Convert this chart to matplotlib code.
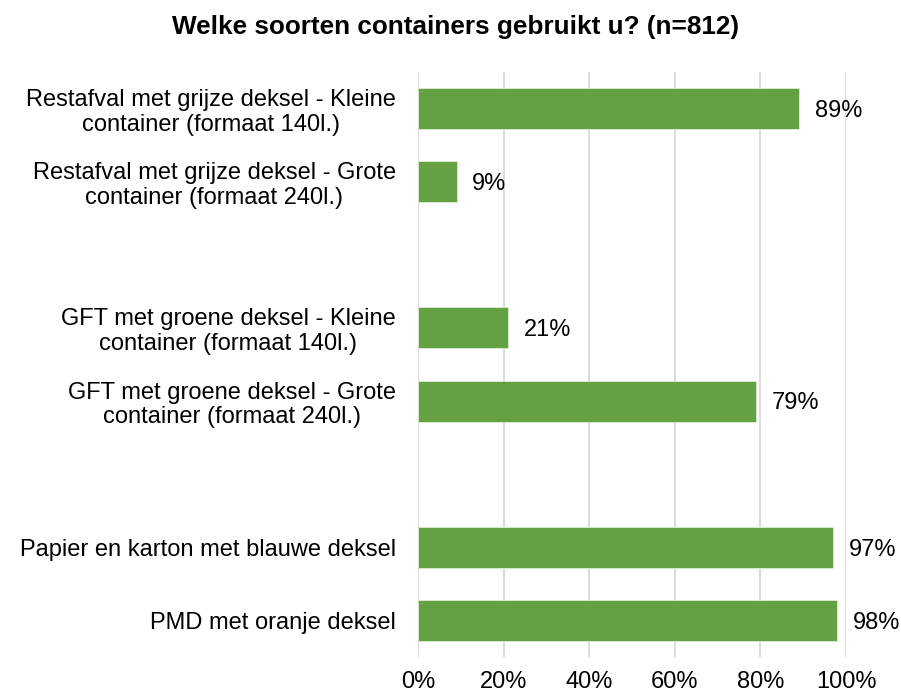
import matplotlib
matplotlib.use("Agg")
import matplotlib.pyplot as plt

plt.rcParams['font.family'] = ['Liberation Sans', 'DejaVu Sans']

# categories in display order (top to bottom), None = empty gap slot
categories = [
    "Restafval met grijze deksel - Kleine\ncontainer (formaat 140l.)",
    "Restafval met grijze deksel - Grote\ncontainer (formaat 240l.)",
    None,
    "GFT met groene deksel - Kleine\ncontainer (formaat 140l.)",
    "GFT met groene deksel - Grote\ncontainer (formaat 240l.)",
    None,
    "Papier en karton met blauwe deksel",
    "PMD met oranje deksel",
]
values = [89, 9, None, 21, 79, None, 97, 98]
xticks = [0, 20, 40, 60, 80, 100]
title = "Welke soorten containers gebruikt u? (n=812)"

green = "#63A143"
fs = 17

fig = plt.figure(figsize=(9.01, 6.95), dpi=100)
ax = fig.add_axes([418 / 901, 1 - 657 / 695, 428 / 901, 585 / 695])

ypos = [i for i, v in enumerate(values) if v is not None]
vals = [v for v in values if v is not None]
ax.barh(ypos, vals, height=0.56, color=green, edgecolor="#DDEBD5",
        linewidth=0.6, zorder=3)

for y, v in zip(ypos, vals):
    ax.text(v + 3.7, y + 0.03, f"{v}%", va="center", ha="left", fontsize=fs,
            color="#000000")

ax.set_xlim(0, 100)
ax.set_ylim(len(values) - 0.5, -0.5)
ax.set_xticks(xticks)
ax.set_xticklabels([f"{t}%" for t in xticks], fontsize=fs)
ax.set_yticks(ypos)
ax.set_yticklabels([categories[i] for i in ypos], fontsize=fs,
                   multialignment="center", linespacing=1.15)
ax.tick_params(axis="both", length=0)
ax.tick_params(axis="x", pad=10)
ax.tick_params(axis="y", pad=16)
ax.grid(axis="x", color="#D9D9D9", linewidth=1.3, zorder=0)
for s in ax.spines.values():
    s.set_visible(False)

fig.text(0.506, 1 - 27 / 695, title, ha="center", va="center",
         fontsize=18.8, fontweight="bold")

fig.savefig("out.png", dpi=100, facecolor="white")
